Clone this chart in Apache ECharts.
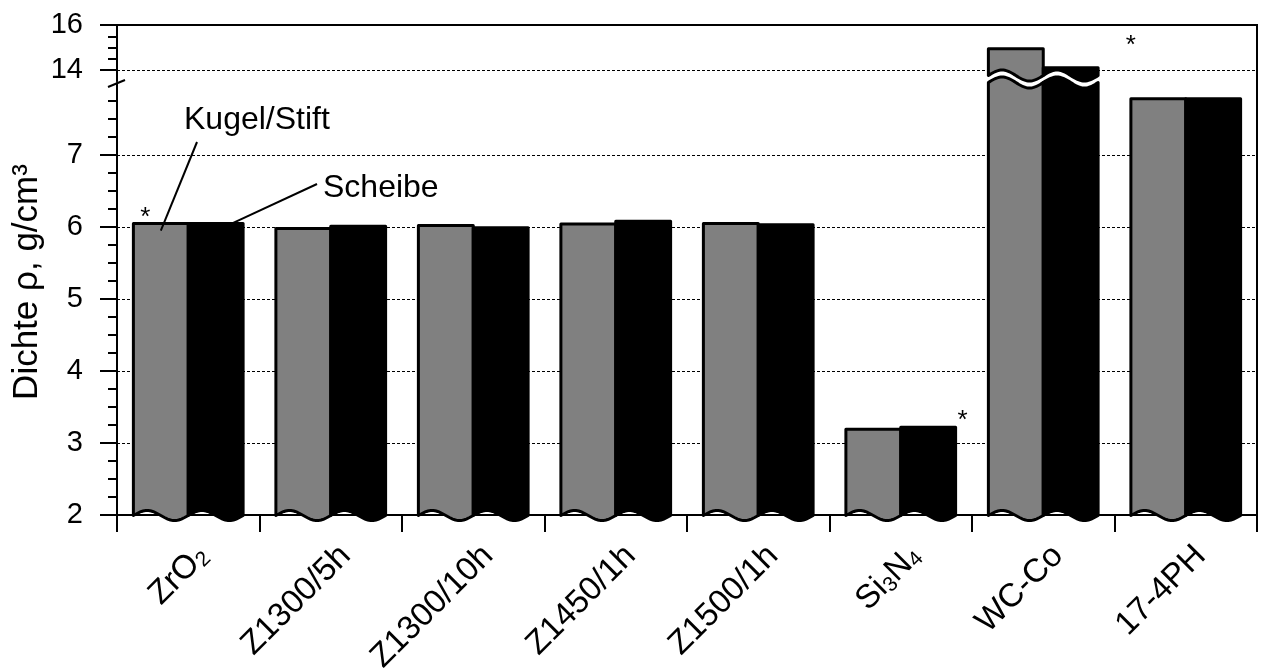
<!DOCTYPE html>
<html>
<head>
<meta charset="utf-8">
<script src="https://cdn.jsdelivr.net/npm/echarts@6/dist/echarts.min.js"></script>
<style>
  html, body { margin: 0; padding: 0; background: #fff; }
  #chart { width: 1264px; height: 669px; }
</style>
</head>
<body>
<div id="chart"></div>
<script>
// ---- data -------------------------------------------------------------
const categories = ['ZrO2', 'Z1300/5h', 'Z1300/10h', 'Z1450/1h', 'Z1500/1h', 'Si3N4', 'WC-Co', '17-4PH'];
const formulas   = ['ZrO2', 'Si3N4'];            // names typeset with subscripts
const kugelStift = [6.05, 5.98, 6.02, 6.04, 6.05, 3.19, 14.95, 7.78];
const scheibe    = [6.05, 6.01, 5.99, 6.08, 6.03, 3.22, 14.10, 7.78];
const seriesNames = ['Kugel/Stift', 'Scheibe'];
const lowerTicks = [2, 3, 4, 5, 6, 7];
const upperTicks = [14, 16];
const lowerRange = [2, 8];
const upperRange = [13.5, 16];
const starred = ['ZrO2', 'Si3N4', '17-4PH'];
const yTitle = 'Dichte \u03c1, g/cm\u00b3';

// ---- layout -----------------------------------------------------------
const FONT = '"Liberation Sans", Arial, Helvetica, sans-serif';
const PLOT_LEFT = 117, PLOT_RIGHT = 1257, PLOT_TOP = 25, PLOT_BOTTOM = 515;
const LOWER_TOP = 83;          // pixel row of the lower segment's upper end
const UPPER_HEIGHT = 56.25;    // pixel height of the upper segment
const BREAK_Y = 79;            // centre of the cut through tall bars
const BREAK_GAP = 3.5, BREAK_AMP = 5.5, BOTTOM_AMP = 5;
const BAR_FRAC = 0.385;        // bar width as a share of the category band
const WAVE_STEPS = 40;
const H = 669, W = 1264;

// minor tick positions (quarter steps below the break, half steps above)
const lowerMinor = [];
for (let v = lowerRange[0]; v < lowerRange[1] - 1e-9; v += 0.25) {
  if (Math.abs(v - Math.round(v)) > 1e-9) lowerMinor.push(+v.toFixed(2));
}
const upperMinor = [14.5, 15, 15.5];

// ---- bar drawing ------------------------------------------------------
function wave(x0, x1, yc, amp) {
  const pts = [];
  for (let i = 0; i <= WAVE_STEPS; i++) {
    const t = i / WAVE_STEPS;
    pts.push([x0 + (x1 - x0) * t, yc - amp * Math.sin(2 * Math.PI * t)]);
  }
  return pts;
}
function barSpan(api, cat, side) {
  const band = api.size([1, 0])[0];
  const w = band * BAR_FRAC;
  const cx = api.coord([cat, lowerRange[0]])[0];
  const x0 = side === 0 ? cx - w : cx;
  return [x0, x0 + w];
}
const barStyle = fill => ({ fill: fill, stroke: '#000', lineWidth: 3, lineJoin: 'round' });

function lowerRenderer(side, fill) {
  return function (params, api) {
    const cat = api.value(0), v = api.value(1);
    const [x0, x1] = barSpan(api, cat, side);
    const yBase = api.coord([cat, lowerRange[0]])[1] + 0.5;
    let top;
    if (v > lowerRange[1]) {
      top = wave(x0, x1, BREAK_Y + BREAK_GAP, BREAK_AMP);
    } else {
      const y = api.coord([cat, v])[1];
      top = [[x0, y], [x1, y]];
    }
    const bottom = wave(x0, x1, yBase, BOTTOM_AMP).reverse();
    return { type: 'polygon', shape: { points: top.concat(bottom) }, style: barStyle(fill) };
  };
}
function upperRenderer(side, fill) {
  return function (params, api) {
    const cat = api.value(0), v = api.value(1);
    if (!(v > upperRange[0])) return null;
    const [x0, x1] = barSpan(api, cat, side);
    const y = api.coord([cat, v])[1];
    const bottom = wave(x0, x1, BREAK_Y - BREAK_GAP, BREAK_AMP).reverse();
    return { type: 'polygon', shape: { points: [[x0, y], [x1, y]].concat(bottom) }, style: barStyle(fill) };
  };
}

const pairs = arr => arr.map((v, i) => [i, v]);
const colors = ['#808080', '#000000'];
const valueSets = [kugelStift, scheibe];

const series = [];
valueSets.forEach((vals, s) => series.push({
  name: seriesNames[s], type: 'custom', xAxisIndex: 0, yAxisIndex: 0,
  data: pairs(vals), encode: { x: 0, y: 1 }, renderItem: lowerRenderer(s, colors[s]), z: 3
}));
valueSets.forEach((vals, s) => series.push({
  name: seriesNames[s], type: 'custom', xAxisIndex: 1, yAxisIndex: 2,
  data: pairs(vals), encode: { x: 0, y: 1 }, renderItem: upperRenderer(s, colors[s]), z: 3
}));

// ---- axes -------------------------------------------------------------
function catLabel(name) {
  if (formulas.indexOf(name) < 0) return '{n|' + name + '}';
  return name.replace(/(\D+)(\d+)/g, '{n|$1}{s|$2}');
}
const dashed = { show: true, lineStyle: { color: '#000', width: 1, type: [3, 2] } };

const option = {
  animation: false,
  backgroundColor: '#fff',
  textStyle: { fontFamily: FONT },
  grid: [
    { left: PLOT_LEFT, right: W - PLOT_RIGHT, top: LOWER_TOP, bottom: H - PLOT_BOTTOM, outerBoundsMode: 'none' },
    { left: PLOT_LEFT, right: W - PLOT_RIGHT, top: PLOT_TOP, height: UPPER_HEIGHT, outerBoundsMode: 'none' }
  ],
  xAxis: [
    {
      gridIndex: 0, type: 'category', data: categories, boundaryGap: true,
      axisLine: { show: true, onZero: false, lineStyle: { color: '#000', width: 2 } },
      axisTick: { show: true, interval: 0, length: 17, alignWithLabel: false, lineStyle: { color: '#000', width: 2 } },
      axisLabel: {
        interval: 0, rotate: 45, margin: 21, color: '#000', fontFamily: FONT,
        align: 'right', verticalAlign: 'top',
        formatter: catLabel,
        rich: {
          n: { fontSize: 33, fontFamily: FONT, color: '#000', lineHeight: 42 },
          s: { fontSize: 21, fontFamily: FONT, color: '#000', lineHeight: 24, verticalAlign: 'top', padding: [17, 0, 0, 0] }
        }
      },
      splitLine: { show: false }
    },
    { gridIndex: 1, type: 'category', data: categories, show: false }
  ],
  yAxis: [
    {
      gridIndex: 0, type: 'value', min: lowerRange[0], max: lowerRange[1], position: 'left',
      axisLine: { show: true, lineStyle: { color: '#000', width: 2 } },
      axisTick: { show: true, length: 17, customValues: lowerTicks, lineStyle: { color: '#000', width: 2 } },
      axisLabel: { customValues: lowerTicks, fontSize: 29, color: '#000', margin: 34, fontFamily: FONT },
      splitLine: Object.assign({ showMinLine: false }, dashed)
    },
    {
      gridIndex: 0, type: 'value', min: lowerRange[0], max: lowerRange[1], position: 'left',
      axisLine: { show: false },
      axisTick: { show: true, length: 9, customValues: lowerMinor, lineStyle: { color: '#000', width: 2 } },
      axisLabel: { show: false }, splitLine: { show: false }
    },
    {
      gridIndex: 1, type: 'value', min: upperRange[0], max: upperRange[1], position: 'left',
      axisLine: { show: true, lineStyle: { color: '#000', width: 2 } },
      axisTick: { show: true, length: 17, customValues: upperTicks, lineStyle: { color: '#000', width: 2 } },
      axisLabel: { customValues: upperTicks, fontSize: 29, color: '#000', margin: 34, fontFamily: FONT },
      splitLine: Object.assign({ showMaxLine: false }, dashed)
    },
    {
      gridIndex: 1, type: 'value', min: upperRange[0], max: upperRange[1], position: 'left',
      axisLine: { show: false },
      axisTick: { show: true, length: 9, customValues: upperMinor, lineStyle: { color: '#000', width: 2 } },
      axisLabel: { show: false }, splitLine: { show: false }
    }
  ],
  series: series
};

const chart = echarts.init(document.getElementById('chart'));
chart.setOption(option);

// ---- annotations ------------------------------------------------------
const band = (PLOT_RIGHT - PLOT_LEFT) / categories.length;
const barW = band * BAR_FRAC;
function lowerPx(cat, v) { return chart.convertToPixel({ xAxisIndex: 0, yAxisIndex: 0 }, [cat, v]); }
function upperPx(cat, v) { return chart.convertToPixel({ xAxisIndex: 1, yAxisIndex: 2 }, [cat, v]); }

const txt = (x, y, text, size, align) => ({
  type: 'text', x: x, y: y, z: 50,
  style: { text: text, fill: '#000', font: size + 'px ' + FONT, textAlign: align || 'left', textVerticalAlign: 'middle' }
});
const seg = (a, b) => ({
  type: 'line', z: 50, shape: { x1: a[0], y1: a[1], x2: b[0], y2: b[1] },
  style: { stroke: '#000', lineWidth: 2 }
});

const graphics = [];
// frame on the top and right of the plot
graphics.push({
  type: 'polyline', z: 1,
  shape: { points: [[PLOT_LEFT, PLOT_TOP], [PLOT_RIGHT, PLOT_TOP], [PLOT_RIGHT, PLOT_BOTTOM]] },
  style: { stroke: '#000', lineWidth: 2, fill: null }
});
// axis break mark
graphics.push(seg([PLOT_LEFT - 9, LOWER_TOP + 4], [PLOT_LEFT + 8, LOWER_TOP - 3]));

// series labels with leader lines to the first group
const c0 = categories.indexOf('ZrO2');
const kEnd = lowerPx(c0, kugelStift[c0] - 0.1);
graphics.push(seg([197, 142], [kEnd[0] - barW / 2, kEnd[1]]));
graphics.push(txt(184, 120, seriesNames[0], 32));
const sEnd = lowerPx(c0, scheibe[c0]);
graphics.push(seg([317, 184], [sEnd[0] + barW * 0.8, sEnd[1]]));
graphics.push(txt(323, 188, seriesNames[1], 32));

// asterisks
starred.forEach(name => {
  const i = categories.indexOf(name);
  let x, y;
  if (name === 'ZrO2') {
    const p = lowerPx(i, kugelStift[i]);
    x = p[0] - barW + 12; y = p[1] - 14;
  } else if (name === 'Si3N4') {
    const p = lowerPx(i, scheibe[i]);
    x = p[0] + barW + 7; y = p[1] - 14;
  } else {
    const p = upperPx(i, upperRange[1]);
    x = p[0] - barW; y = p[1] + 13;
  }
  graphics.push(txt(x, y + 8, '*', 26, 'center'));
});

// y axis title
graphics.push({
  type: 'text', x: 27, y: 282, rotation: Math.PI / 2, z: 50,
  style: { text: yTitle, fill: '#000', font: '35px ' + FONT, textAlign: 'center', textVerticalAlign: 'middle' }
});

chart.setOption({ graphic: graphics });
</script>
</body>
</html>
